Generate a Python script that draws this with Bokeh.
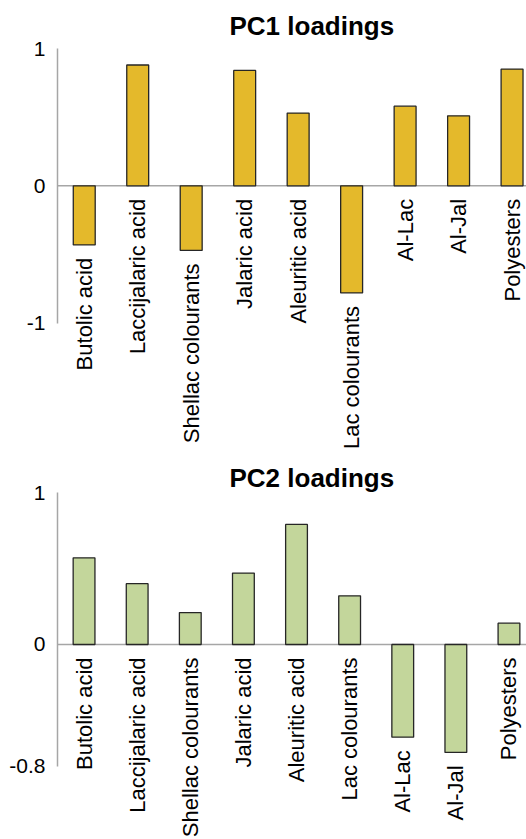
import math

from bokeh.core.properties import value
from bokeh.embed import file_html
from bokeh.layouts import column
from bokeh.models import ColumnDataSource, CustomJSTickFormatter, FixedTicker, Range1d, Span
from bokeh.plotting import figure
from bokeh.resources import INLINE

# Variables shown on both loading plots
categories = [
    "Butolic acid", "Laccijalaric acid", "Shellac colourants", "Jalaric acid",
    "Aleuritic acid", "Lac colourants", "Al-Lac", "Al-Jal", "Polyesters",
]

# Loadings on the first two principal components
pc1_loadings = [-0.43, 0.88, -0.47, 0.84, 0.53, -0.78, 0.58, 0.51, 0.85]
pc2_loadings = [0.57, 0.40, 0.21, 0.47, 0.79, 0.32, -0.61, -0.71, 0.14]

# Value-axis ticks of each panel
pc1_ticks = [-1, 0, 1]
pc2_ticks = [-0.8, 0, 1]

FONT = "Liberation Sans"
AXIS_GREY = "#a6a6a6"


def loading_panel(title, loadings, ticks, fill, height, top_border, y_start, x_end,
                  title_standoff):
    xs = [i + 0.5 for i in range(len(categories))]
    base = [min(0.0, v) for v in loadings]
    src = ColumnDataSource(dict(x=xs, v=loadings, base=base, name=categories))

    p = figure(
        width=526, height=height,
        x_range=Range1d(0.0, x_end), y_range=Range1d(y_start, ticks[-1]),
        x_axis_location=None, toolbar_location=None, output_backend="svg",
        min_border_left=57, min_border_right=0, min_border_top=top_border,
        min_border_bottom=0,
    )
    p.outline_line_color = None
    p.xgrid.visible = False
    p.ygrid.visible = False
    p.background_fill_color = "white"
    p.border_fill_color = "white"

    p.title.text = title
    p.title.text_font = FONT
    p.title.text_font_style = "bold"
    p.title.text_font_size = "26px"
    p.title.text_color = "black"
    p.title.align = "left"
    p.title.offset = 172
    p.title.standoff = title_standoff

    ax = p.yaxis[0]
    ax.ticker = FixedTicker(ticks=ticks)
    ax.formatter = CustomJSTickFormatter(code="return String(tick)")
    ax.bounds = (ticks[0], ticks[-1])
    ax.major_tick_line_color = None
    ax.minor_tick_line_color = None
    ax.major_tick_in = 0
    ax.major_tick_out = 0
    ax.axis_line_color = AXIS_GREY
    ax.axis_line_width = 1.5
    ax.major_label_standoff = 12
    ax.major_label_text_font = FONT
    ax.major_label_text_font_size = "21px"
    ax.major_label_text_color = "black"

    # zero baseline across the whole panel
    p.add_layout(Span(location=0, dimension="width", line_color=AXIS_GREY,
                      line_width=1.5, level="underlay"))

    p.vbar(x="x", top="v", bottom=0, width=0.41, source=src,
           fill_color=fill, line_color="#262626", line_width=1.3)

    # category names hang just below each bar (or below the baseline)
    p.text(x="x", y="base", text="name", source=src, angle=math.pi / 2,
           text_align="right", text_baseline="middle", y_offset=13,
           text_font=value(FONT), text_font_size="22px", text_color="black")
    return p


p1 = loading_panel("PC1 loadings", pc1_loadings, pc1_ticks, "#e4b92b",
                   height=460, top_border=48, y_start=-2.0, x_end=8.77,
                   title_standoff=15)
p2 = loading_panel("PC2 loadings", pc2_loadings, pc2_ticks, "#c3d69b",
                   height=379, top_border=32, y_start=-1.283, x_end=8.83,
                   title_standoff=0)

page = column(p1, p2, spacing=0)
open("out.html", "w").write(file_html(page, INLINE))
